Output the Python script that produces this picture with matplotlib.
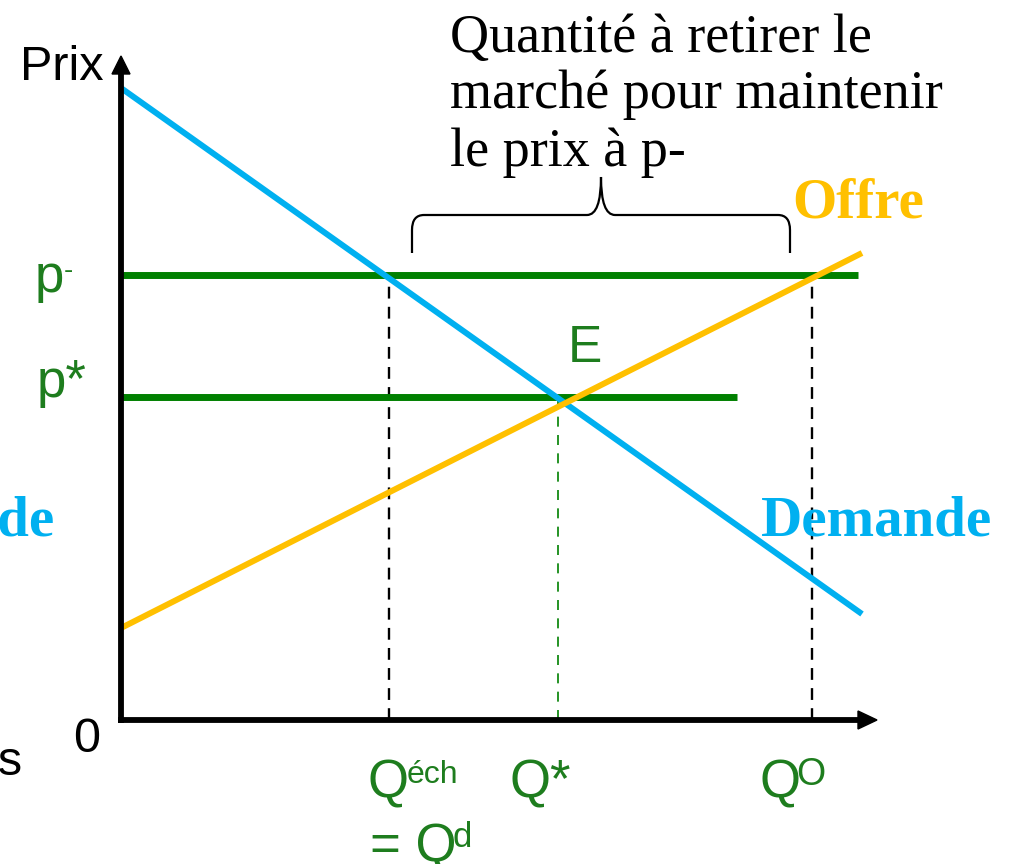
import matplotlib
matplotlib.use("Agg")
import matplotlib.pyplot as plt
from matplotlib.path import Path
from matplotlib.patches import PathPatch, Polygon

# ---- data (quantity, price units; origin at 0,0) ----
demand_q = [0, 741]
demand_p = [632, 106]
supply_q = [0, 741]
supply_p = [92, 467]
p_floor = 445          # p-
p_star = 323           # p*
floor_end_q = 737
star_end_q = 616
q_ech = 268            # Q_ech = Q_d
q_star = 437           # Q*
q_o = 691              # Q_O

BLUE = "#00B0F0"
ORANGE = "#FFC000"
GREEN = "#008000"
TGREEN = "#1E7D1E"

fig = plt.figure(figsize=(10.17, 8.64), dpi=100)
ax = fig.add_axes([0, 0, 1, 1])
ax.set_xlim(-121, 896)
ax.set_ylim(-144, 720)
ax.axis("off")

# curves
ax.plot(demand_q, demand_p, color=BLUE, lw=4.3, solid_capstyle="butt", zorder=3)
ax.plot(supply_q, supply_p, color=ORANGE, lw=4.3, solid_capstyle="butt", zorder=3)
ax.plot([0, floor_end_q], [p_floor, p_floor], color=GREEN, lw=5.0, solid_capstyle="butt", zorder=2)
ax.plot([0, star_end_q], [p_star, p_star], color=GREEN, lw=5.0, solid_capstyle="butt", zorder=2)

# dashed guides
ax.plot([q_ech, q_ech], [0, p_floor], color="black", lw=1.7, dashes=(5, 3.5), zorder=1)
ax.plot([q_o, q_o], [0, p_floor], color="black", lw=1.7, dashes=(5, 3.5), zorder=1)
ax.plot([q_star, q_star], [0, p_star], color=GREEN, lw=1.2, dashes=(6, 5), zorder=1)

# axes with arrows
ax.plot([0, 0], [-3, 648], color="black", lw=4.2, solid_capstyle="butt", zorder=4)
ax.plot([-3, 740], [0, 0], color="black", lw=4.2, solid_capstyle="butt", zorder=4)
ax.add_patch(Polygon([[-9, 646], [9, 646], [0, 664]], closed=True, color="black", zorder=4))
ax.add_patch(Polygon([[737, 9], [737, -9], [756, 0]], closed=True, color="black", zorder=4))

# brace
verts = [(291, 467), (291, 490), (291, 505), (303, 505), (466, 505),
         (480, 505), (480, 543), (480, 505), (494, 505), (657, 505),
         (669, 505), (669, 490), (669, 467)]
codes = [Path.MOVETO, Path.LINETO, Path.CURVE3, Path.CURVE3, Path.LINETO,
         Path.CURVE3, Path.CURVE3, Path.CURVE3, Path.CURVE3, Path.LINETO,
         Path.CURVE3, Path.CURVE3, Path.LINETO]
ax.add_patch(PathPatch(Path(verts, codes), facecolor="none", edgecolor="black", lw=1.6, zorder=2))

sans = "Liberation Sans"
serif = "Liberation Serif"

# axis texts
ax.text(-101, 640, "Prix", fontsize=35, family=sans, color="black", ha="left", va="baseline")
ax.text(-21, -32, "0", fontsize=35, family=sans, color="black", ha="right", va="baseline")
ax.text(-98, -55, "Quantités", fontsize=35, family=sans, color="black", ha="right", va="baseline")

# price labels
ax.text(-86, 428, "p", fontsize=38, family=sans, color=TGREEN, ha="left", va="baseline")
ax.text(-57, 442, "-", fontsize=20, family=sans, color=TGREEN, ha="left", va="baseline")
ax.text(-84, 323, "p*", fontsize=38, family=sans, color=TGREEN, ha="left", va="baseline")
ax.text(447, 358, "E", fontsize=37, family=sans, color=TGREEN, ha="left", va="baseline")

# quantity labels
ax.text(247, -78, "Q", fontsize=38, family=sans, color=TGREEN, ha="left", va="baseline")
ax.text(286, -63, "éch", fontsize=23, family=sans, color=TGREEN, ha="left", va="baseline")
ax.text(249, -141, "= Q", fontsize=38, family=sans, color=TGREEN, ha="left", va="baseline")
ax.text(331, -127, "d", fontsize=25, family=sans, color=TGREEN, ha="left", va="baseline")
ax.text(389, -78, "Q*", fontsize=38, family=sans, color=TGREEN, ha="left", va="baseline")
ax.text(638, -78, "Q", fontsize=38, family=sans, color=TGREEN, ha="left", va="baseline")
ax.text(675, -65, "O", fontsize=27, family=sans, color=TGREEN, ha="left", va="baseline")

# curve names
ax.text(671, 502, "Offre", fontsize=41, family=serif, weight="bold", color=ORANGE, ha="left", va="baseline")
ax.text(640, 185, "Demande", fontsize=41, family=serif, weight="bold", color=BLUE, ha="left", va="baseline")
ax.text(-66, 185, "Demande", fontsize=41, family=serif, weight="bold", color=BLUE, ha="right", va="baseline")

# annotation
ax.text(329, 668, "Quantité à retirer le", fontsize=39, family=serif, color="black", ha="left", va="baseline")
ax.text(329, 612, "marché pour maintenir", fontsize=39, family=serif, color="black", ha="left", va="baseline")
ax.text(329, 554, "le prix à p-", fontsize=39, family=serif, color="black", ha="left", va="baseline")

fig.savefig("out.png", dpi=100)
